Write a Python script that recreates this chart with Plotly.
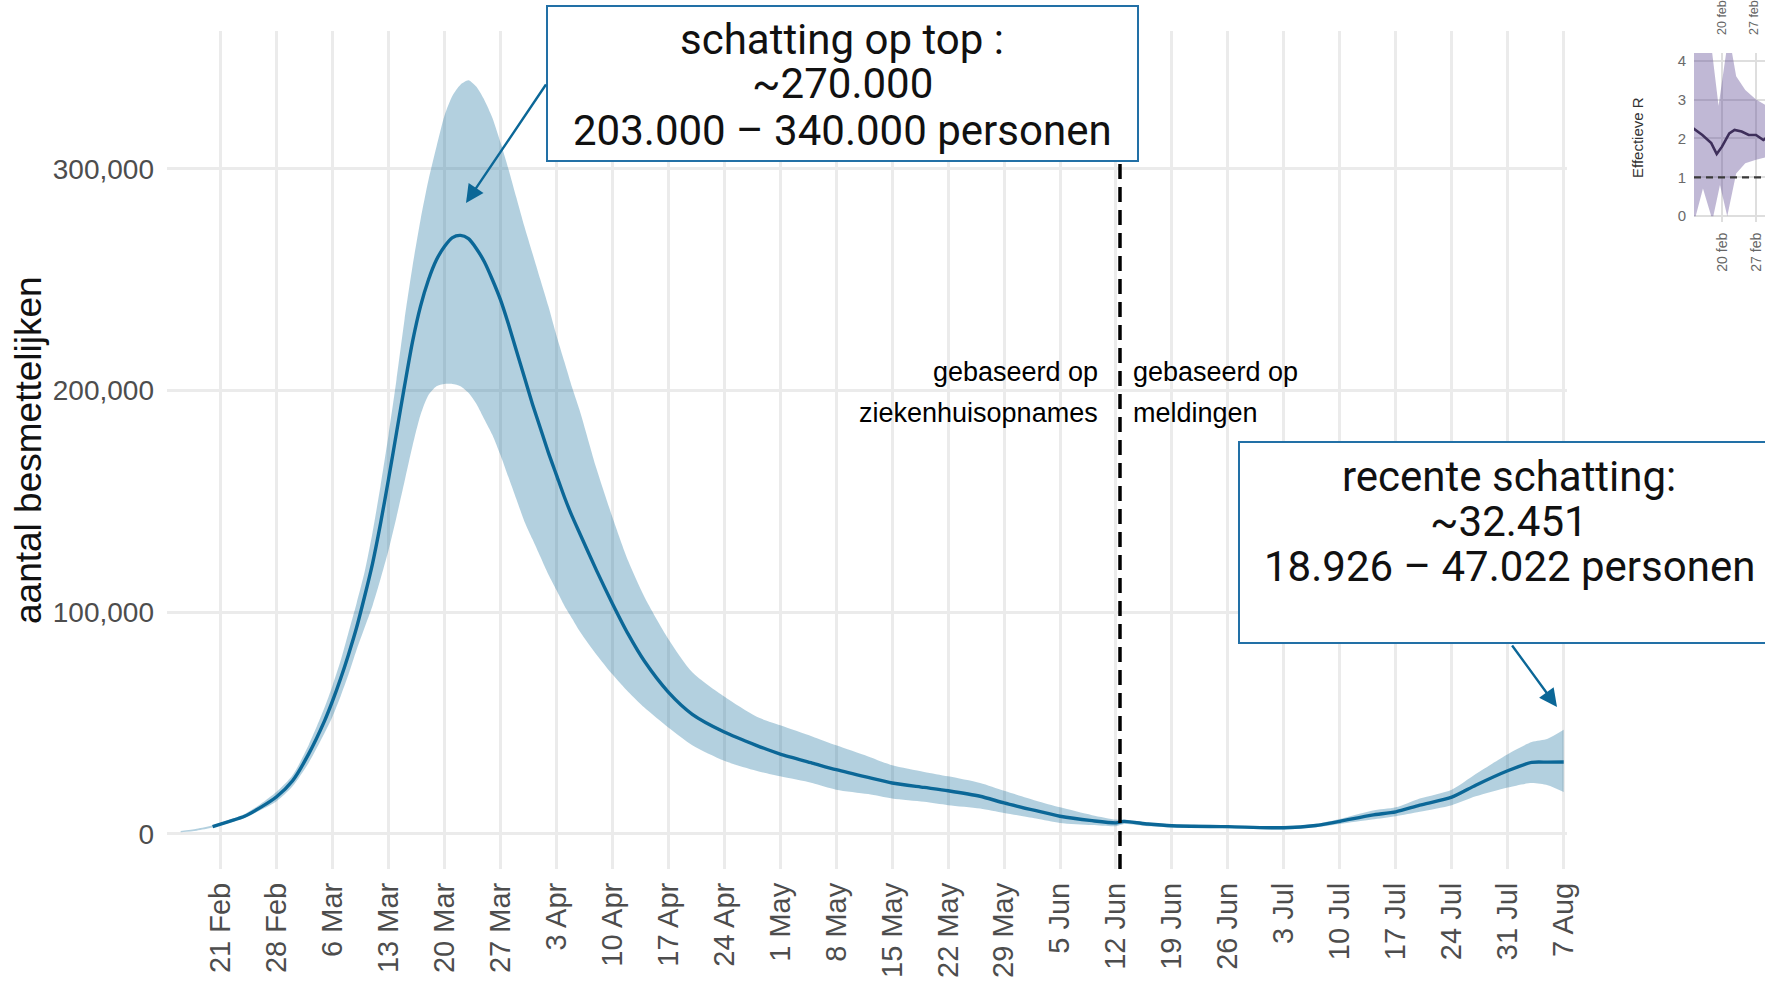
import plotly.graph_objects as go

W, H = 1765, 984

# ---------------- main series: aantal besmettelijken (persons) ----------------
dates = [
    "2020-02-16", "2020-02-18", "2020-02-20", "2020-02-22", "2020-02-24", "2020-02-26",
    "2020-02-28", "2020-03-01", "2020-03-03", "2020-03-05", "2020-03-06", "2020-03-07",
    "2020-03-08", "2020-03-09", "2020-03-10", "2020-03-11", "2020-03-12", "2020-03-13",
    "2020-03-14", "2020-03-15", "2020-03-16", "2020-03-17", "2020-03-18", "2020-03-19",
    "2020-03-20", "2020-03-21", "2020-03-22", "2020-03-23", "2020-03-24", "2020-03-25",
    "2020-03-26", "2020-03-27", "2020-03-28", "2020-03-29", "2020-03-30", "2020-03-31",
    "2020-04-01", "2020-04-02", "2020-04-03", "2020-04-04", "2020-04-05", "2020-04-06",
    "2020-04-08", "2020-04-10", "2020-04-12", "2020-04-14", "2020-04-17", "2020-04-20",
    "2020-04-24", "2020-04-28", "2020-05-01", "2020-05-05", "2020-05-08", "2020-05-12",
    "2020-05-15", "2020-05-19", "2020-05-22", "2020-05-26", "2020-05-29", "2020-06-02",
    "2020-06-05", "2020-06-09", "2020-06-12", "2020-06-13", "2020-06-16", "2020-06-19",
    "2020-06-26", "2020-07-03", "2020-07-07", "2020-07-10", "2020-07-14", "2020-07-17",
    "2020-07-20", "2020-07-24", "2020-07-27", "2020-07-31", "2020-08-03", "2020-08-05",
    "2020-08-07",
]
estimate = [
    None, None, 3300, 5600, 8000, 12000,
    16800, 24000, 36000, 51000, 60000, 70000,
    81000, 93000, 107000, 122000, 140000, 160000,
    181000, 202000, 222000, 238000, 250000, 259000,
    265000, 269000, 270000, 268500, 264000, 258000,
    250000, 241000, 230000, 218000, 206000, 194000,
    183000, 172000, 162000, 152000, 143000, 135000,
    119000, 104000, 90000, 78000, 64000, 54000,
    46000, 40000, 36000, 32000, 29000, 25500,
    23000, 21000, 19500, 17000, 14000, 10500,
    8000, 6000, 5000, 5700, 4500, 3700,
    3300, 2800, 3800, 5700, 8500, 10000,
    13000, 16600, 22000, 28500, 32300, 32400,
    32451,
]
upper = [
    1300, 2300, 3900, 6300, 9000, 13500,
    19000, 26500, 40000, 57000, 67000, 78000,
    91000, 104000, 118000, 136000, 157000, 180000,
    205000, 232000, 256000, 277000, 295000, 310000,
    324000, 333000, 338000, 340000, 337000, 331000,
    323000, 312000, 300000, 287000, 274000, 262000,
    250000, 238000, 225000, 213000, 201000, 190000,
    165000, 143000, 123000, 107000, 88000, 73000,
    62000, 53000, 49000, 44000, 40000, 35000,
    31000, 28000, 26000, 23000, 19500, 15000,
    12000, 8500, 6500, 6500, 5200, 4500,
    3700, 3300, 4600, 6800, 10500, 12000,
    16000, 20000, 27000, 36000, 41500, 43000,
    47022,
]
lower = [
    800, 1500, 2900, 4900, 7200, 10800,
    14800, 21500, 32000, 45500, 53000, 62000,
    72000, 83000, 93000, 103000, 115000, 128000,
    143000, 159000, 175000, 189000, 198000, 202000,
    203000, 203000, 202000, 199000, 194000, 187000,
    180000, 171000, 161000, 151000, 141000, 133000,
    125000, 117000, 110000, 103000, 97000, 91000,
    81000, 72000, 64000, 57000, 48000, 40000,
    33000, 28500, 26000, 23000, 20000, 18000,
    16000, 14500, 13000, 11500, 9500, 7000,
    5000, 4000, 3500, 4500, 3500, 2900,
    2600, 2000, 3000, 4500, 6500, 8000,
    10000, 13000, 17000, 21000, 23000, 22000,
    18926,
]

tick_dates = [
    "2020-02-21", "2020-02-28", "2020-03-06", "2020-03-13", "2020-03-20", "2020-03-27",
    "2020-04-03", "2020-04-10", "2020-04-17", "2020-04-24", "2020-05-01", "2020-05-08",
    "2020-05-15", "2020-05-22", "2020-05-29", "2020-06-05", "2020-06-12", "2020-06-19",
    "2020-06-26", "2020-07-03", "2020-07-10", "2020-07-17", "2020-07-24", "2020-07-31",
    "2020-08-07",
]
tick_text = [
    "21 Feb", "28 Feb", "6 Mar", "13 Mar", "20 Mar", "27 Mar", "3 Apr", "10 Apr",
    "17 Apr", "24 Apr", "1 May", "8 May", "15 May", "22 May", "29 May", "5 Jun",
    "12 Jun", "19 Jun", "26 Jun", "3 Jul", "10 Jul", "17 Jul", "24 Jul", "31 Jul",
    "7 Aug",
]
y_ticks = [0, 100000, 200000, 300000]
y_tick_text = ["0", "100,000", "200,000", "300,000"]

switch_date = "2020-06-12 12:00"

# ---------------- small Effectieve R panel (top right) ----------------
r_dates = [
    "2020-02-14 02:00", "2020-02-15 23:00", "2020-02-17 19:00", "2020-02-18 22:00",
    "2020-02-20 00:00", "2020-02-21 12:00", "2020-02-22 14:00", "2020-02-24 01:00",
    "2020-02-25 12:00", "2020-02-27 00:00", "2020-02-28 12:00", "2020-02-29 14:00",
]
r_values = [2.26, 2.09, 1.88, 1.60, 1.79, 2.13, 2.22, 2.18, 2.09, 2.09, 1.96, 2.05]
r_upper_dates = [
    "2020-02-14 02:00", "2020-02-17 19:00", "2020-02-19 07:00", "2020-02-21 02:00",
    "2020-02-21 19:00", "2020-02-22 22:00", "2020-02-24 19:00", "2020-02-27 00:00",
    "2020-02-29 14:00",
]
r_upper = [4.4, 4.4, 2.84, 4.4, 4.4, 3.6, 3.25, 3.0, 2.82]
r_lower_dates = [
    "2020-02-14 02:00", "2020-02-14 14:00", "2020-02-16 02:00", "2020-02-17 19:00",
    "2020-02-18 05:00", "2020-02-19 14:00", "2020-02-21 02:00", "2020-02-22 22:00",
    "2020-02-24 19:00", "2020-02-27 00:00", "2020-02-29 14:00",
]
r_lower = [0.0, 0.0, 0.71, 0.0, 0.0, 0.80, 0.0, 1.10, 1.36, 1.45, 1.53]
r_tick_dates = ["2020-02-20", "2020-02-27"]
r_tick_text = ["20 feb", "27 feb"]

# ---------------- styling ----------------
BLUE = "#0b6797"
BAND = "rgba(11, 103, 151, 0.31)"
BOX_BLUE = "#2270a6"
GRID = "#ebebeb"
TICK_GREY = "#4d4d4d"
SANS = "Liberation Sans, Arial, sans-serif"
BOX_FONT = "Roboto, Liberation Sans, sans-serif"


def px(xp):
    return xp / W


def py(yp):
    return 1 - yp / H


fig = go.Figure()

# uncertainty band
fig.add_trace(go.Scatter(
    x=dates, y=lower, mode="lines", line=dict(width=0, shape="spline", smoothing=0.7),
    hoverinfo="skip", showlegend=False,
))
fig.add_trace(go.Scatter(
    x=dates, y=upper, mode="lines", line=dict(width=0, shape="spline", smoothing=0.7),
    fill="tonexty", fillcolor=BAND, hoverinfo="skip", showlegend=False,
))
# central estimate
fig.add_trace(go.Scatter(
    x=dates, y=estimate, mode="lines",
    line=dict(color=BLUE, width=3.4, shape="spline", smoothing=0.7),
    showlegend=False,
))

# Effectieve R panel
fig.add_trace(go.Scatter(
    x=r_upper_dates + r_lower_dates[::-1], y=r_upper + r_lower[::-1],
    mode="lines", line=dict(width=0), fill="toself", fillcolor="rgba(98, 78, 150, 0.40)",
    xaxis="x2", yaxis="y2", hoverinfo="skip", showlegend=False,
))
fig.add_trace(go.Scatter(
    x=r_dates, y=r_values, mode="lines", line=dict(color="#3e2f5b", width=2.6),
    xaxis="x2", yaxis="y2", showlegend=False,
))

main_x_dom = [px(167), px(1567)]
main_y_dom = [py(869), py(31)]

fig.update_layout(
    width=W, height=H, autosize=False,
    margin=dict(l=0, r=0, t=0, b=0, pad=0),
    paper_bgcolor="white", plot_bgcolor="white",
    xaxis=dict(
        domain=main_x_dom, type="date",
        range=["2020-02-14 07:00", "2020-08-07 10:00"],
        tickmode="array", tickvals=tick_dates, ticktext=tick_text, tickangle=-90,
        tickfont=dict(family=SANS, size=29, color=TICK_GREY),
        showgrid=True, gridcolor=GRID, gridwidth=3, zeroline=False, showline=False,
        ticks="", ticklabelstandoff=7, automargin=False, fixedrange=True,
    ),
    yaxis=dict(
        domain=main_y_dom, range=[-15800, 362200],
        tickmode="array", tickvals=y_ticks, ticktext=y_tick_text,
        tickfont=dict(family=SANS, size=28, color=TICK_GREY),
        showgrid=True, gridcolor=GRID, gridwidth=3, zeroline=False, showline=False,
        ticks="", ticklabelstandoff=12, automargin=False, fixedrange=True,
    ),
    xaxis2=dict(
        domain=[px(1694), 1.0], anchor="y2", type="date",
        range=["2020-02-14 05:45", "2020-02-28 20:25"],
        tickmode="array", tickvals=r_tick_dates, ticktext=r_tick_text, tickangle=-90,
        tickfont=dict(family=SANS, size=14, color="#666666"),
        showgrid=True, gridcolor="#dedede", gridwidth=1.5, zeroline=False,
        ticks="", ticklabelstandoff=7, automargin=False, fixedrange=True,
    ),
    yaxis2=dict(
        domain=[py(222), py(53)], anchor="x2", range=[-0.15, 4.2],
        tickmode="array", tickvals=[0, 1, 2, 3, 4],
        tickfont=dict(family=SANS, size=15, color="#6a6a6a"),
        showgrid=True, gridcolor="#dedede", gridwidth=1.5, zeroline=False,
        ticks="", ticklabelstandoff=7, automargin=False, fixedrange=True,
    ),
)

shapes = [
    # switch from hospital admissions to notifications
    dict(type="line", xref="x", yref="paper", x0=switch_date, x1=switch_date,
         y0=main_y_dom[0], y1=main_y_dom[1],
         line=dict(color="black", width=3.5, dash="15px,8px")),
    # R = 1 reference
    dict(type="line", xref="x2 domain", yref="y2", x0=0, x1=1, y0=1, y1=1,
         line=dict(color="#3a3a3a", width=2.2, dash="7px,5px")),
    # callout boxes
    dict(type="rect", xref="paper", yref="paper", x0=px(547), x1=px(1138),
         y0=py(161), y1=py(6), fillcolor="white", line=dict(color=BOX_BLUE, width=2)),
    dict(type="rect", xref="paper", yref="paper", x0=px(1239), x1=px(1782),
         y0=py(643), y1=py(442), fillcolor="white", line=dict(color=BOX_BLUE, width=2)),
]
fig.update_layout(shapes=shapes)

annotations = []


def label(text, x, y, size, color="black", family=SANS, xanchor="center", angle=0):
    annotations.append(dict(
        text=text, x=px(x), y=py(y), xref="paper", yref="paper",
        xanchor=xanchor, yanchor="middle", showarrow=False, textangle=angle,
        font=dict(family=family, size=size, color=color),
    ))


label("aantal besmettelijken", 29, 450, 37, color="#111111", angle=-90)
label("gebaseerd op", 1100, 372, 27, xanchor="right")
label("ziekenhuisopnames", 1100, 413, 27, xanchor="right")
label("gebaseerd op", 1131, 372, 27, xanchor="left")
label("meldingen", 1131, 413, 27, xanchor="left")

# peak callout
label("schatting op top :", 842, 39, 42, color="#111111", family=BOX_FONT)
label("~270.000", 842, 84, 42, color="#111111", family=BOX_FONT)
label("203.000 \u2013 340.000 personen", 842, 131, 42, color="#111111", family=BOX_FONT)
# latest estimate callout
label("recente schatting:", 1509, 476, 42, color="#111111", family=BOX_FONT)
label("~32.451", 1509, 521, 42, color="#111111", family=BOX_FONT)
label("18.926 \u2013 47.022 personen", 1509, 566, 42, color="#111111", family=BOX_FONT)

# Effectieve R panel labels
label("Effectieve R", 1637, 138, 15, color="#333333", angle=-90)
label("20 feb", 1722, 18, 12.5, color="#666666", angle=-90)
label("27 feb", 1754, 18, 12.5, color="#666666", angle=-90)

# callout arrows (head position, tail offset in pixels)
for head, tail in [((466, 203), (547, 83)), ((1557, 707), (1511, 644))]:
    annotations.append(dict(
        text="", x=px(head[0]), y=py(head[1]), xref="paper", yref="paper",
        ax=tail[0] - head[0], ay=tail[1] - head[1], axref="pixel", ayref="pixel",
        showarrow=True, arrowhead=2, arrowsize=1.5, arrowwidth=2.4,
        arrowcolor=BLUE, standoff=0,
    ))

fig.update_layout(annotations=annotations)

fig.write_html("out.html")
